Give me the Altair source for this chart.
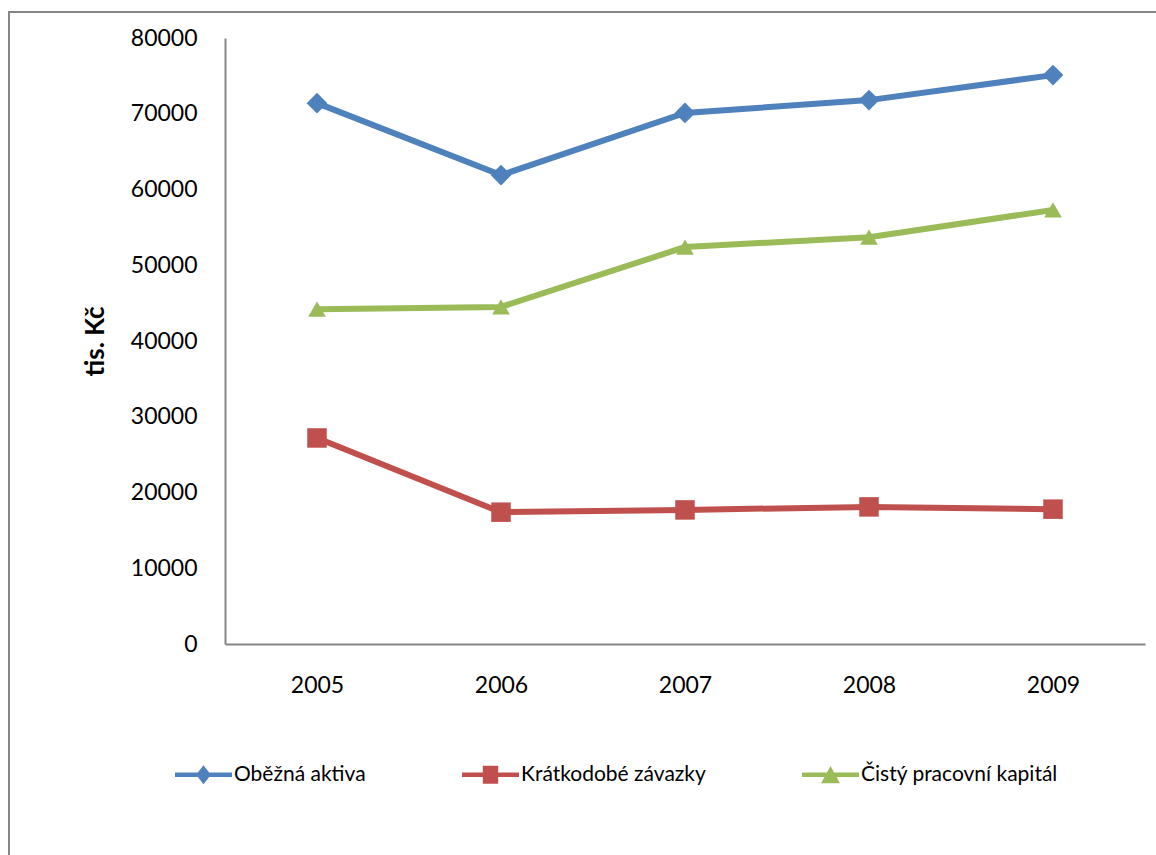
import altair as alt
import pandas as pd

# Values in thousands of CZK, 2005-2009
years = ["2005", "2006", "2007", "2008", "2009"]
obezna_aktiva = [71400, 61900, 70100, 71800, 75100]
kratkodobe_zavazky = [27200, 17400, 17700, 18100, 17800]
cisty_pracovni_kapital = [44200, 44500, 52400, 53700, 57300]

series_names = ["Oběžná aktiva", "Krátkodobé závazky", "Čistý pracovní kapitál"]
series_colors = ["#4F81BD", "#C0504D", "#9BBB59"]
marker_shapes = ["diamond", "square", "triangle-up"]
marker_sizes = [430, 380, 310]

# legend glyphs: a short line with the series marker on top
_bar = "M-1,-0.08L1,-0.08L1,0.08L-1,0.08Z"
legend_glyphs = [
    _bar + "M0,-0.33L0.26,0L0,0.33L-0.26,0Z",
    _bar + "M-0.27,-0.32L0.27,-0.32L0.27,0.32L-0.27,0.32Z",
    _bar + "M0,-0.31L0.33,0.3L-0.33,0.3Z",
]

rows = []
for name, vals in zip(series_names, [obezna_aktiva, kratkodobe_zavazky, cisty_pracovni_kapital]):
    for y, v in zip(years, vals):
        rows.append({"rok": y, "hodnota": v, "serie": name})
df = pd.DataFrame(rows)

FONT = "Lato"

x_enc = alt.X(
    "rok:O",
    scale=alt.Scale(type="point", padding=0.5),
    axis=alt.Axis(
        title=None, labelAngle=0, ticks=False, labelPadding=30,
        labelFontSize=23, labelColor="#000", labelFont=FONT,
        domainColor="#868686", domainWidth=2, grid=False,
    ),
)
y_enc = alt.Y(
    "hodnota:Q",
    scale=alt.Scale(domain=[0, 80000], nice=False),
    axis=alt.Axis(
        title="tis. Kč", values=list(range(0, 80001, 10000)), format="d",
        ticks=False, labelPadding=28, labelFontSize=23, labelColor="#000",
        labelFont=FONT, domainColor="#868686", domainWidth=2, grid=False,
        titleFont=FONT, titleFontSize=26, titleFontWeight="bold",
        titleColor="#000", titlePadding=22,
    ),
)
color_scale = alt.Scale(domain=series_names, range=series_colors)

base = alt.Chart(df)

# legend source: small glyphs hidden beneath the series markers
legend_layer = base.mark_point(filled=True, strokeWidth=0, opacity=1).encode(
    x=x_enc, y=y_enc,
    color=alt.Color(
        "serie:N", scale=color_scale,
        legend=alt.Legend(
            title=None, orient="none", legendX=-50, legendY=708,
            direction="horizontal", columnPadding=96, symbolSize=3249,
            symbolStrokeWidth=0, symbolOpacity=1, labelFont=FONT,
            labelFontSize=21, labelColor="#000", labelOffset=2,
            labelLimit=400,
        ),
    ),
    shape=alt.Shape("serie:N", scale=alt.Scale(domain=series_names, range=legend_glyphs)),
)

layers = []
for name, shape, size, col in zip(series_names, marker_shapes, marker_sizes, series_colors):
    sub = base.transform_filter(alt.datum.serie == name)
    layers.append(sub.mark_line(strokeWidth=6, color=col).encode(x=x_enc, y=y_enc))
    layers.append(
        sub.mark_point(shape=shape, filled=True, opacity=1, size=size, color=col)
        .encode(x=x_enc, y=y_enc)
    )

# outer chart frame
frame = alt.Chart(pd.DataFrame({"f": [0]})).mark_rect(
    fill="transparent", stroke="#868686", strokeWidth=2
).encode(
    x=alt.value(-216), x2=alt.value(960), y=alt.value(-26), y2=alt.value(840)
)

chart = alt.layer(frame, legend_layer, *layers).properties(
    width=920, height=606,
    padding={"left": 225, "top": 38, "right": 11, "bottom": 211},
    autosize=alt.AutoSizeParams(type="none"),
    background="white",
).configure_view(stroke=None)

chart.save("out.html", embed_options={"renderer": "svg", "actions": False})
